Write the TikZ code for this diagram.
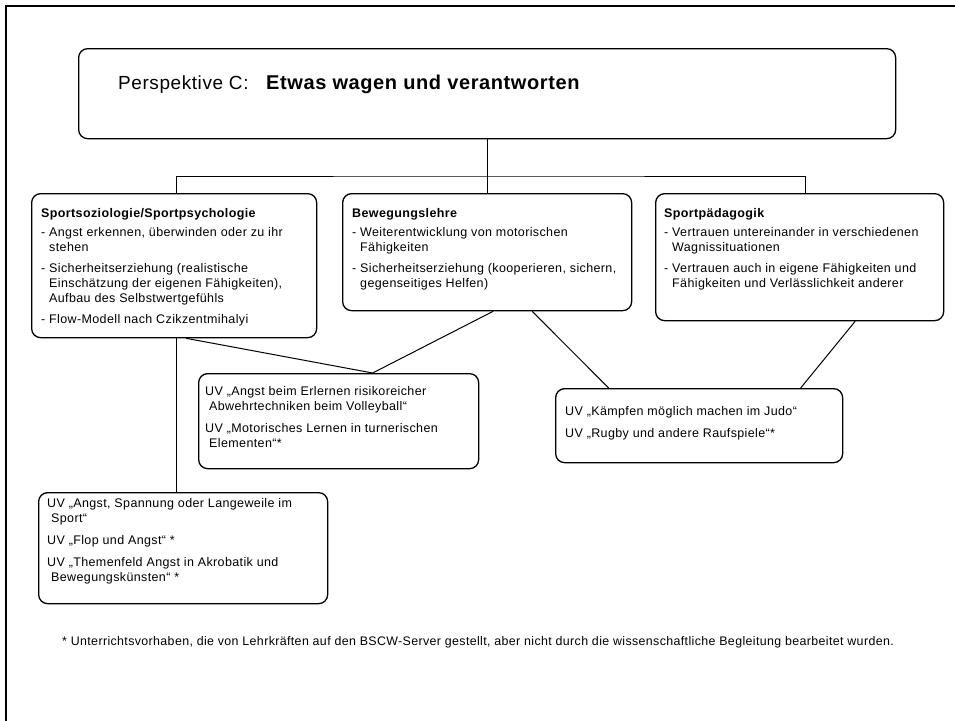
\documentclass[tikz,border=0pt]{standalone}
\usepackage{fontspec}
\setmainfont[LetterSpace=3]{Liberation Sans}
\usetikzlibrary{calc}
\newcommand{\hind}{\hspace*{8pt}}
\newcommand{\uind}{\hspace*{4pt}}
\newcommand{\topstrut}{\rule{0pt}{12pt}}
\begin{document}
\begin{tikzpicture}[x=1pt,y=-1pt,
  box/.style={draw, line width=1.3pt, rounded corners=9pt, inner sep=0pt, anchor=north west},
  txt/.style={anchor=north west, inner sep=0pt, align=left, font=\fontsize{12.5}{15}\selectfont},
  con/.style={line width=1pt}]
\useasboundingbox (0,0) rectangle (955,720);
\fill[white] (0,0) rectangle (955,720);
\coordinate (fTL) at (6,6);
\coordinate (fTR) at (958,6);
\coordinate (fBL) at (6,723);
\draw[line width=2.5pt] (fTR) -- (fTL) -- (fBL);

% title box
\node[box, minimum width=817pt, minimum height=90pt] (T) at (78,48) {};
\node[anchor=base west, inner sep=0pt, font=\fontsize{19}{23}\selectfont] (t1) at (118,89) {Perspektive C:};
\node[anchor=base west, inner sep=0pt, font=\fontsize{20}{24}\selectfont\bfseries] (t2) at (266,89) {Etwas wagen und verantworten};

% second row
\node[box, minimum width=285pt, minimum height=144pt] (A) at (31,193) {};
\node[box, minimum width=289pt, minimum height=117pt] (B) at (342,193) {};
\node[box, minimum width=288pt, minimum height=127pt] (C) at (655,193) {};

\node[txt] (At) at (41,205) {\topstrut\textbf{Sportsoziologie/Sportpsychologie}\\[4pt]
- Angst erkennen, überwinden oder zu ihr\\
\hind stehen\\[6pt]
- Sicherheitserziehung (realistische\\
\hind Einschätzung der eigenen Fähigkeiten),\\
\hind Aufbau des Selbstwertgefühls\\[6pt]
- Flow-Modell nach Czikzentmihalyi};

\node[txt] (Bt) at (352,205) {\topstrut\textbf{Bewegungslehre}\\[4pt]
- Weiterentwicklung von motorischen\\
\hind Fähigkeiten\\[6pt]
- Sicherheitserziehung (kooperieren, sichern,\\
\hind gegenseitiges Helfen)};

\node[txt] (Ct) at (664,205) {\topstrut\textbf{Sportpädagogik}\\[4pt]
- Vertrauen untereinander in verschiedenen\\
\hind Wagnissituationen\\[6pt]
- Vertrauen auch in eigene Fähigkeiten und\\
\hind Fähigkeiten und Verlässlichkeit anderer};

% lower boxes
\node[box, minimum width=280pt, minimum height=95pt] (D) at (198,373) {};
\node[box, minimum width=287pt, minimum height=74pt] (E) at (555,388) {};
\node[box, minimum width=289pt, minimum height=111pt] (F) at (38,492) {};

\node[txt] (Dt) at (205,383.5) {\topstrut UV „Angst beim Erlernen risikoreicher\\
\uind Abwehrtechniken beim Volleyball“\\[7pt]
UV „Motorisches Lernen in turnerischen\\
\uind Elementen“*};

\node[txt] (Et) at (565,403.5) {\topstrut UV „Kämpfen möglich machen im Judo“\\[7pt]
UV „Rugby und andere Raufspiele“*};

\node[txt] (Ft) at (47,495.5) {\topstrut UV „Angst, Spannung oder Langeweile im\\
\uind Sport“\\[7pt]
UV „Flop und Angst“ *\\[7pt]
UV „Themenfeld Angst in Akrobatik und\\
\uind Bewegungskünsten“ *};

\node[anchor=base west, inner sep=0pt, font=\fontsize{12.4}{15}\selectfont] (fn) at (62,645) {* Unterrichtsvorhaben, die von Lehrkräften auf den BSCW-Server gestellt, aber nicht durch die wissenschaftliche Begleitung bearbeitet wurden.};

% connectors
\coordinate (hub) at (T.south |- 0,176);
\draw[con] (T.south) -- (B.north);
\draw[con] ([xshift=2pt]A.north) |- (hub) -| ([xshift=6pt]C.north);
\draw[con] ([xshift=2pt]A.south) -- ([xshift=2pt]A.south |- F.north);
\draw[con] ([xshift=12pt]A.south) -- ([xshift=34pt]D.north);
\draw[con] ([xshift=6pt]B.south) -- ([xshift=34pt]D.north);
\draw[con] ([xshift=45pt]B.south) -- ([xshift=-90.5pt]E.north);
\draw[con] ([xshift=55.5pt]C.south) -- ([xshift=101.5pt]E.north);
\end{tikzpicture}
\end{document}
